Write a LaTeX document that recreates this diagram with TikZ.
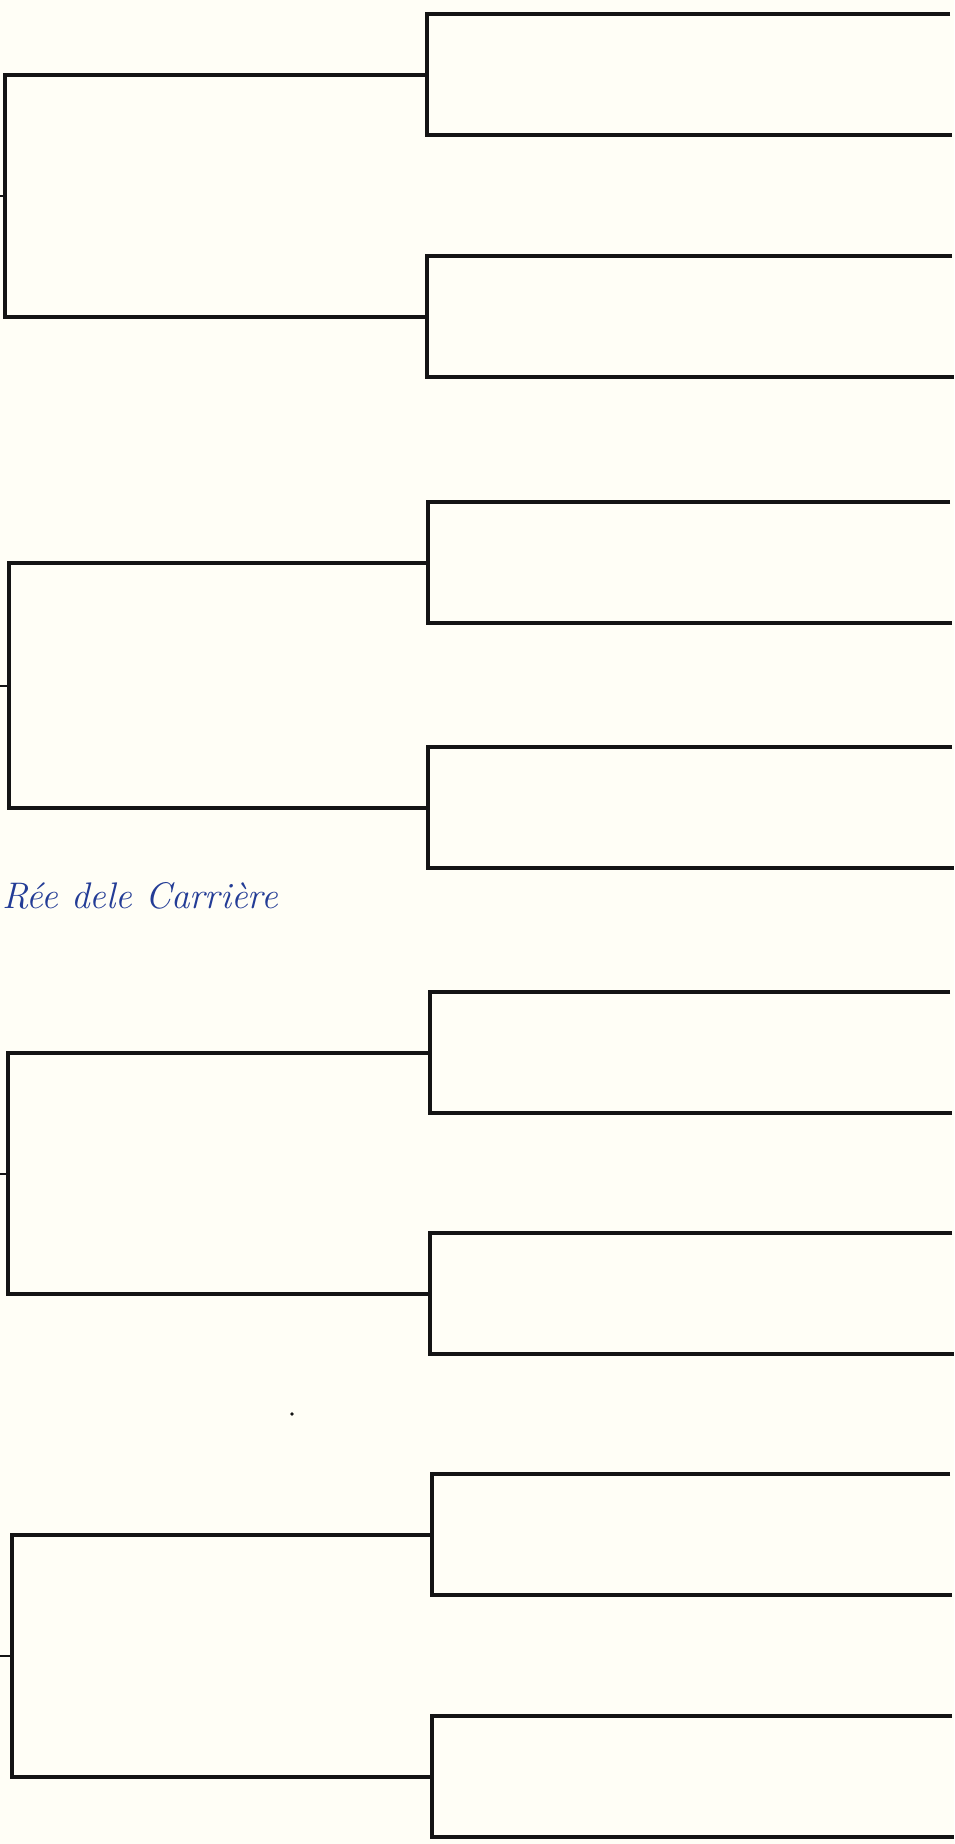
\documentclass[tikz,border=0pt]{standalone}
\usepackage{xcolor}
\definecolor{paper}{RGB}{255,254,246}
\definecolor{ink}{RGB}{20,20,20}
\definecolor{pen}{RGB}{35,60,150}
\begin{document}
\begin{tikzpicture}[x=1pt,y=-1pt,
  chartline/.style={draw=ink,line width=3.2pt,line cap=butt,line join=miter},
  handwriting/.style={text=pen,font=\fontsize{37}{44}\selectfont\itshape,inner sep=0pt,anchor=base west}]
\fill[paper] (0,0) rectangle (954,1844);
\useasboundingbox (0,0) rectangle (954,1844);
% group: bracket x, box x, top box top, bottom box top
\foreach \g/\bx/\kx/\ta/\tb in {1/5/427/14/256, 2/9/428/502/747, 3/8/430/992/1233, 4/12/432/1474/1716}{
  \pgfmathsetmacro{\ma}{\ta+61}
  \pgfmathsetmacro{\mb}{\tb+61}
  \pgfmathsetmacro{\ba}{\ta+121}
  \pgfmathsetmacro{\bb}{\tb+121}
  \pgfmathsetmacro{\sm}{(\ma+\mb)/2}
  \coordinate (A\g tl) at (\kx,\ta);
  \coordinate (A\g tr) at (950,\ta);
  \coordinate (A\g bl) at (\kx,\ba);
  \coordinate (A\g br) at (952,\ba);
  \coordinate (A\g m) at (\kx,\ma);
  \coordinate (B\g tl) at (\kx,\tb);
  \coordinate (B\g tr) at (952,\tb);
  \coordinate (B\g bl) at (\kx,\bb);
  \coordinate (B\g br) at (954,\bb);
  \coordinate (B\g m) at (\kx,\mb);
  \coordinate (K\g t) at (\bx,\ma);
  \coordinate (K\g b) at (\bx,\mb);
  \coordinate (K\g m) at (\bx,\sm);
  \coordinate (S\g) at (0,\sm);
  \draw[chartline] (A\g tr) -- (A\g tl) -- (A\g bl) -- (A\g br);
  \draw[chartline] (B\g tr) -- (B\g tl) -- (B\g bl) -- (B\g br);
  \draw[chartline] (A\g m) -- (K\g t) -- (K\g b) -- (B\g m);
  \draw[chartline,line width=2pt] (S\g) -- (K\g m);
}
\node[handwriting] (name) at (2,908) {Rée dele Carrière};
\fill[ink] (292,1414) circle (1.8);
\end{tikzpicture}
\end{document}
